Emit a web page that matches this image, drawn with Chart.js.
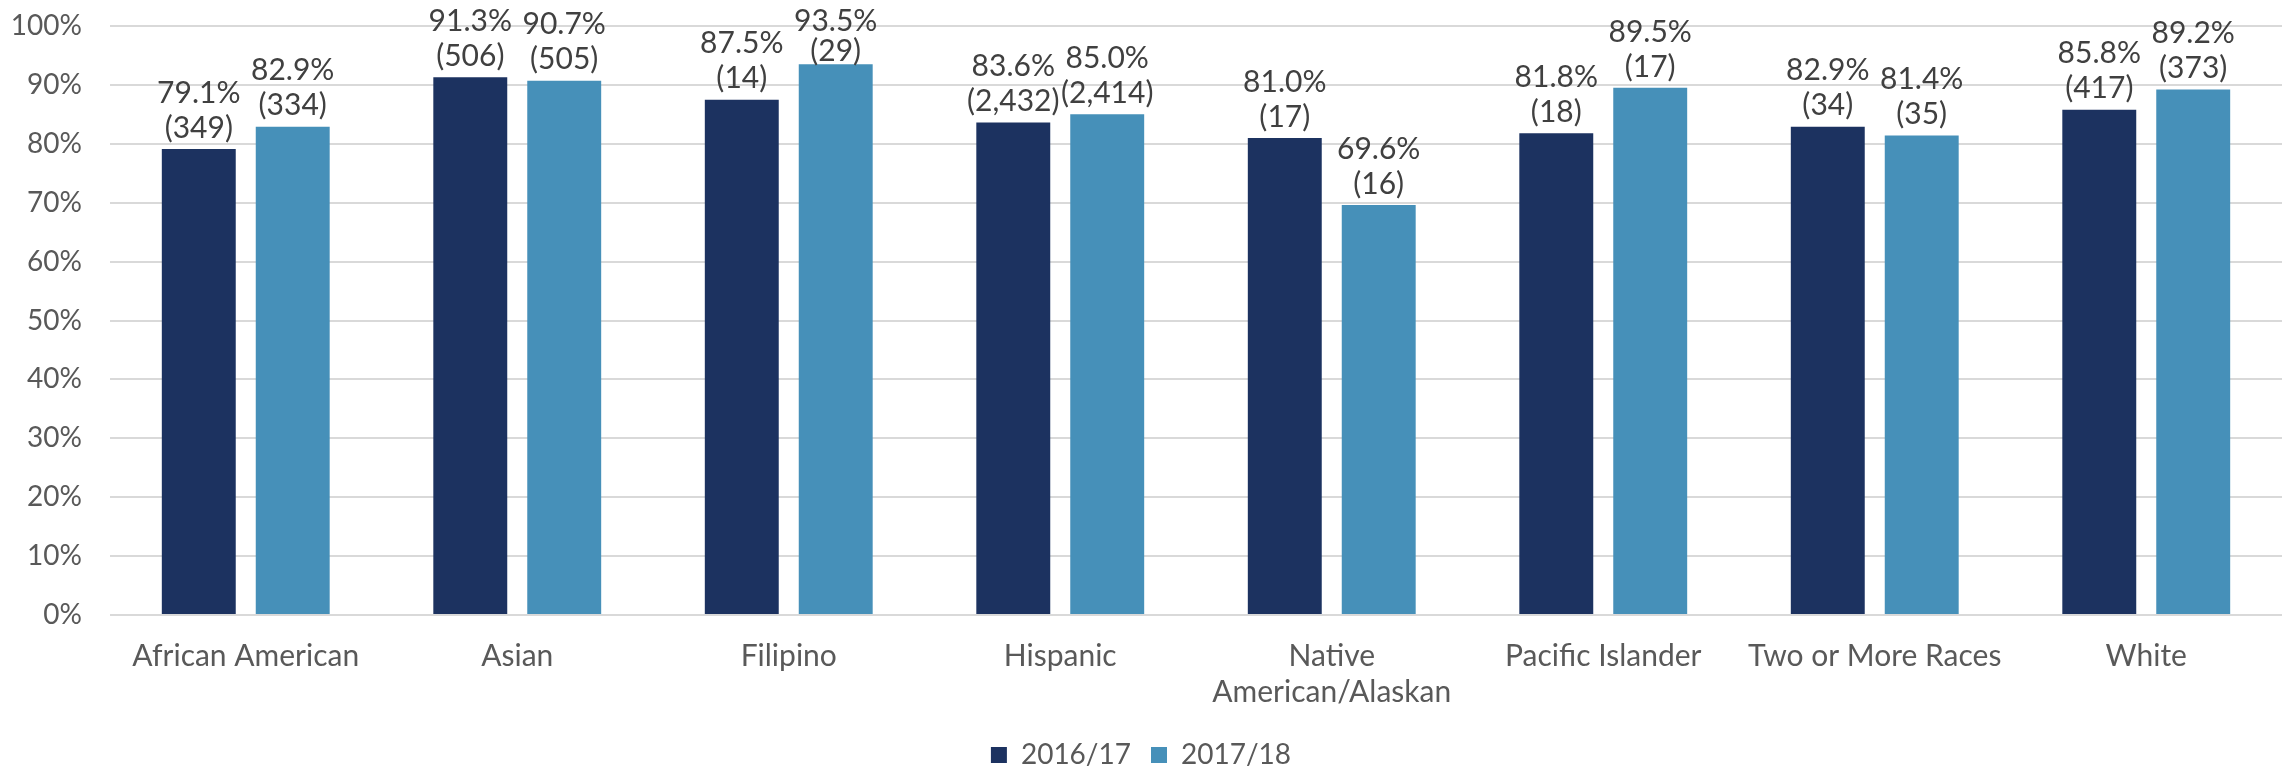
<!DOCTYPE html>
<html>
<head>
<meta charset="utf-8">
<script src="https://cdn.jsdelivr.net/npm/chart.js@4"></script>
<style>
  html, body { margin: 0; padding: 0; background: #fff; }
  #wrap { width: 2292px; height: 769px; position: relative; }
</style>
</head>
<body>
<div id="wrap"><canvas id="rates"></canvas></div>
<script>
// rates by student group, two school years
const categories = ['African American', 'Asian', 'Filipino', 'Hispanic', ['Native', 'American/Alaskan'],
  'Pacific Islander', 'Two or More Races', 'White'];
const seriesNames = ['2016/17', '2017/18'];
const rate1617 = [79.1, 91.3, 87.5, 83.6, 81.0, 81.8, 82.9, 85.8];
const rate1718 = [82.9, 90.7, 93.5, 85.0, 69.6, 89.5, 81.4, 89.2];
const count1617 = [349, 506, 14, 2432, 17, 18, 34, 417];
const count1718 = [334, 505, 29, 2414, 16, 17, 35, 373];
const yTicks = [0, 10, 20, 30, 40, 50, 60, 70, 80, 90, 100];

const FONT = 'Lato, "Open Sans", sans-serif';
const counts = [count1617, count1718];

// two-line label above each bar: rate, then (n); kept inside the canvas near the top
const barLabels = {
  id: 'barLabels',
  afterDatasetsDraw(chart) {
    const { ctx } = chart;
    ctx.save();
    ctx.font = '30px ' + FONT;
    ctx.fillStyle = '#404040';
    ctx.textAlign = 'center';
    ctx.textBaseline = 'middle';
    chart.data.datasets.forEach((ds, i) => {
      chart.getDatasetMeta(i).data.forEach((bar, j) => {
        const v = ds.data[j];
        const n = counts[i][j];
        const pctY = Math.max(bar.y - 56, 21);
        const cntY = Math.max(bar.y - 21, pctY + 30);
        ctx.fillText(v.toFixed(1) + '%', bar.x, pctY);
        ctx.fillText('(' + n.toLocaleString('en-US') + ')', bar.x, cntY);
      });
    });
    ctx.restore();
  }
};

new Chart(document.getElementById('rates'), {
  type: 'bar',
  data: {
    labels: categories,
    datasets: [
      { label: seriesNames[0], data: rate1617, backgroundColor: '#1c3260' },
      { label: seriesNames[1], data: rate1718, backgroundColor: '#4690b9' }
    ]
  },
  options: {
    responsive: true,
    maintainAspectRatio: false,
    animation: false,
    layout: { padding: { top: 26, right: 10, left: 0, bottom: -10 } },
    datasets: { bar: { categoryPercentage: 0.692, barPercentage: 0.787 } },
    plugins: {
      legend: {
        position: 'bottom',
        labels: {
          color: '#595959',
          font: { family: FONT, size: 28 },
          boxWidth: 16,
          boxHeight: 16,
          padding: 20
        }
      },
      tooltip: { enabled: false }
    },
    scales: {
      x: {
        grid: { display: false },
        border: { display: false },
        ticks: {
          color: '#595959',
          font: { family: FONT, size: 30, lineHeight: 1.2 },
          maxRotation: 0,
          autoSkip: false,
          padding: 15
        },
        afterFit: s => { s.height = 106; s.paddingLeft = 0; s.paddingRight = 0; }
      },
      y: {
        min: 0,
        max: 100,
        afterBuildTicks: s => { s.ticks = yTicks.map(v => ({ value: v })); },
        grid: { color: '#d9d9d9', lineWidth: 2, drawTicks: false },
        border: { display: false },
        ticks: {
          color: '#595959',
          font: { family: FONT, size: 28 },
          padding: 28,
          callback: v => v + '%'
        },
        afterFit: s => { s.width = 110; s.paddingTop = 0; s.paddingBottom = 0; }
      }
    }
  },
  plugins: [barLabels]
});
</script>
</body>
</html>
